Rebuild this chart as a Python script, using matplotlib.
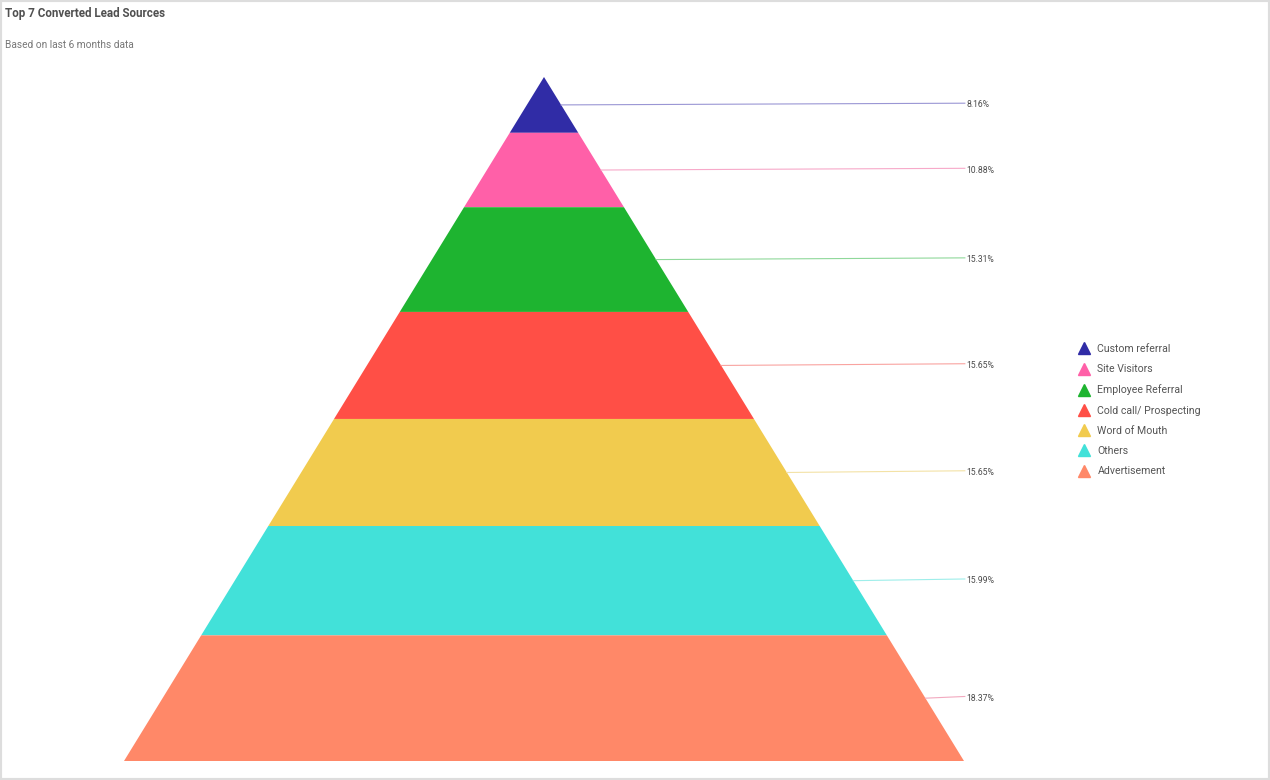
import matplotlib
matplotlib.use("Agg")
import matplotlib.pyplot as plt
from matplotlib.lines import Line2D
from matplotlib.patches import Polygon, Rectangle

plt.rcParams["font.family"] = ["Roboto", "DejaVu Sans"]

# data (top of pyramid first)
sources = ["Custom referral", "Site Visitors", "Employee Referral",
           "Cold call/ Prospecting", "Word of Mouth", "Others", "Advertisement"]
shares = [8.16, 10.88, 15.31, 15.65, 15.65, 15.99, 18.37]
colors = ["#302ca6", "#ff60a8", "#1eb430", "#ff4f46", "#f1cb4e", "#42e1d9", "#ff8868"]
line_colors = ["#9a96d4", "#f7a9c9", "#8fd89a", "#f9a3a0", "#f3e2a6", "#9eeeea", "#f2a9bf"]

W, H = 1270, 780
fig = plt.figure(figsize=(W / 100, H / 100), dpi=100)
fig.patch.set_facecolor("white")

# pyramid area in pixels: apex at top, base from x=124 to x=964
left, right, top, bottom = 124, 964, 77, 761
ax = fig.add_axes([left / W, 1 - bottom / H, (right - left) / W, (bottom - top) / H])
total = sum(shares)
ax.set_xlim(-1, 1)
ax.set_ylim(total, 0)
ax.axis("off")

cum = 0
for name, val, col, lcol in zip(sources, shares, colors, line_colors):
    y0, y1 = cum, cum + val
    w0, w1 = y0 / total, y1 / total
    ax.add_patch(Polygon([(-w0, y0), (w0, y0), (w1, y1), (-w1, y1)],
                         closed=True, facecolor=col, edgecolor="none"))
    ym = (y0 + y1) / 2
    xm = ym / total
    ax.plot([xm, 1.002], [ym, ym - 0.25], color=lcol, lw=0.8, clip_on=False)
    ax.text(1.005, ym, f"{val:.2f}%", fontsize=6.2, color="#4a4a4a",
            va="center", ha="left", clip_on=False)
    cum = y1

# legend
handles = [Line2D([], [], marker="^", linestyle="none", markersize=8.5,
                  markerfacecolor=c, markeredgecolor=c) for c in colors]
fig.legend(handles, sources, loc="upper left", bbox_to_anchor=(1079 / W, 1 - 344 / H),
           frameon=False, fontsize=7.6, labelcolor="#555555", handlelength=1.0,
           handletextpad=0.75, labelspacing=0.97, borderaxespad=0, borderpad=0)

# titles
fig.text(5 / W, 1 - 14 / H, "Top 7 Converted Lead Sources", fontsize=8.4,
         fontweight="bold", color="#505050", va="center", ha="left")
fig.text(5 / W, 1 - 45 / H, "Based on last 6 months data", fontsize=7.3,
         color="#777777", va="center", ha="left")

# outer frame
fig.patches.append(Rectangle((0, 0), 1, 1, transform=fig.transFigure, fill=False,
                             edgecolor="#dddddd", linewidth=3))

fig.savefig("out.png", dpi=100)
